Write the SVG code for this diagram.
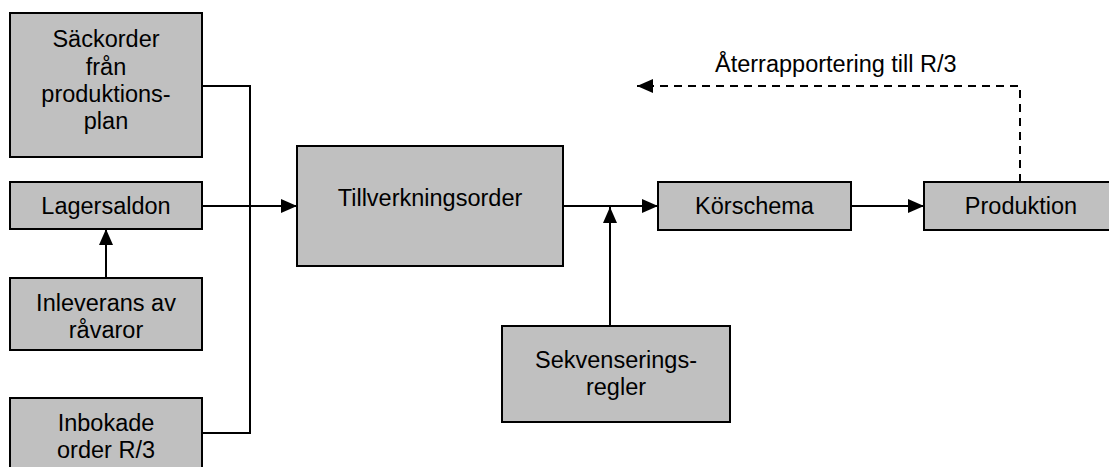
<svg xmlns="http://www.w3.org/2000/svg" width="1109" height="467" viewBox="0 0 1109 467">
  <style>
    .box { fill: #c0c0c0; stroke: #000; stroke-width: 2; }
    .lbl { font-family: "Liberation Sans", Arial, sans-serif; font-size: 23.5px; fill: #000; text-anchor: middle; }
    .note { font-family: "Liberation Sans", Arial, sans-serif; font-size: 23.5px; fill: #000; }
    .wire { fill: none; stroke: #000; stroke-width: 2; }
    .dash { fill: none; stroke: #000; stroke-width: 2; stroke-dasharray: 8 6; }
  </style>
  <defs>
    <marker id="arrow" viewBox="0 0 16 14" refX="16" refY="7" markerWidth="16" markerHeight="14" markerUnits="userSpaceOnUse" orient="auto">
      <path d="M0,0 L16,7 L0,14 Z" fill="#000"/>
    </marker>
  </defs>

  <rect width="1109" height="467" fill="#fff"/>

  <g id="connectors">
    <!-- inputs merging into Tillverkningsorder -->
    <polyline class="wire" points="202,86 250,86 250,433 202,433"/>
    <line class="wire" x1="202" y1="206" x2="297" y2="206" marker-end="url(#arrow)"/>
    <!-- Inleverans feeds Lagersaldon -->
    <line class="wire" x1="106" y1="278" x2="106" y2="229" marker-end="url(#arrow)"/>
    <!-- Tillverkningsorder to Körschema -->
    <line class="wire" x1="563" y1="206" x2="658" y2="206" marker-end="url(#arrow)"/>
    <!-- Sekvenseringsregler joins the order line -->
    <line class="wire" x1="610" y1="326" x2="610" y2="207" marker-end="url(#arrow)"/>
    <!-- Körschema to Produktion -->
    <line class="wire" x1="851" y1="206" x2="924" y2="206" marker-end="url(#arrow)"/>
    <!-- feedback to R/3 -->
    <polyline class="dash" points="1020,182 1020,86 637,86" marker-end="url(#arrow)"/>
    <text class="note" x="715" y="72">Återrapportering till R/3</text>
  </g>

  <g id="sackorder">
    <rect class="box" x="10" y="13" width="192" height="144"/>
    <text class="lbl" x="106" y="47">Säckorder</text>
    <text class="lbl" x="106" y="74.5">från</text>
    <text class="lbl" x="106" y="102">produktions-</text>
    <text class="lbl" x="106" y="129">plan</text>
  </g>

  <g id="lagersaldon">
    <rect class="box" x="10" y="182" width="192" height="47"/>
    <text class="lbl" x="106" y="214">Lagersaldon</text>
  </g>

  <g id="inleverans">
    <rect class="box" x="10" y="278" width="192" height="72"/>
    <text class="lbl" x="106" y="311">Inleverans av</text>
    <text class="lbl" x="106" y="338">råvaror</text>
  </g>

  <g id="inbokade">
    <rect class="box" x="10" y="398" width="192" height="74"/>
    <text class="lbl" x="106" y="431">Inbokade</text>
    <text class="lbl" x="106" y="458">order R/3</text>
  </g>

  <g id="tillverkningsorder">
    <rect class="box" x="297" y="146" width="266" height="120"/>
    <text class="lbl" x="430" y="206">Tillverkningsorder</text>
  </g>

  <g id="sekvenseringsregler">
    <rect class="box" x="502" y="326" width="228" height="96"/>
    <text class="lbl" x="616" y="368">Sekvenserings-</text>
    <text class="lbl" x="616" y="395">regler</text>
  </g>

  <g id="korschema">
    <rect class="box" x="658" y="182" width="193" height="48"/>
    <text class="lbl" x="754.5" y="214">Körschema</text>
  </g>

  <g id="produktion">
    <rect class="box" x="924" y="182" width="196" height="48"/>
    <text class="lbl" x="1021" y="214">Produktion</text>
  </g>
</svg>
